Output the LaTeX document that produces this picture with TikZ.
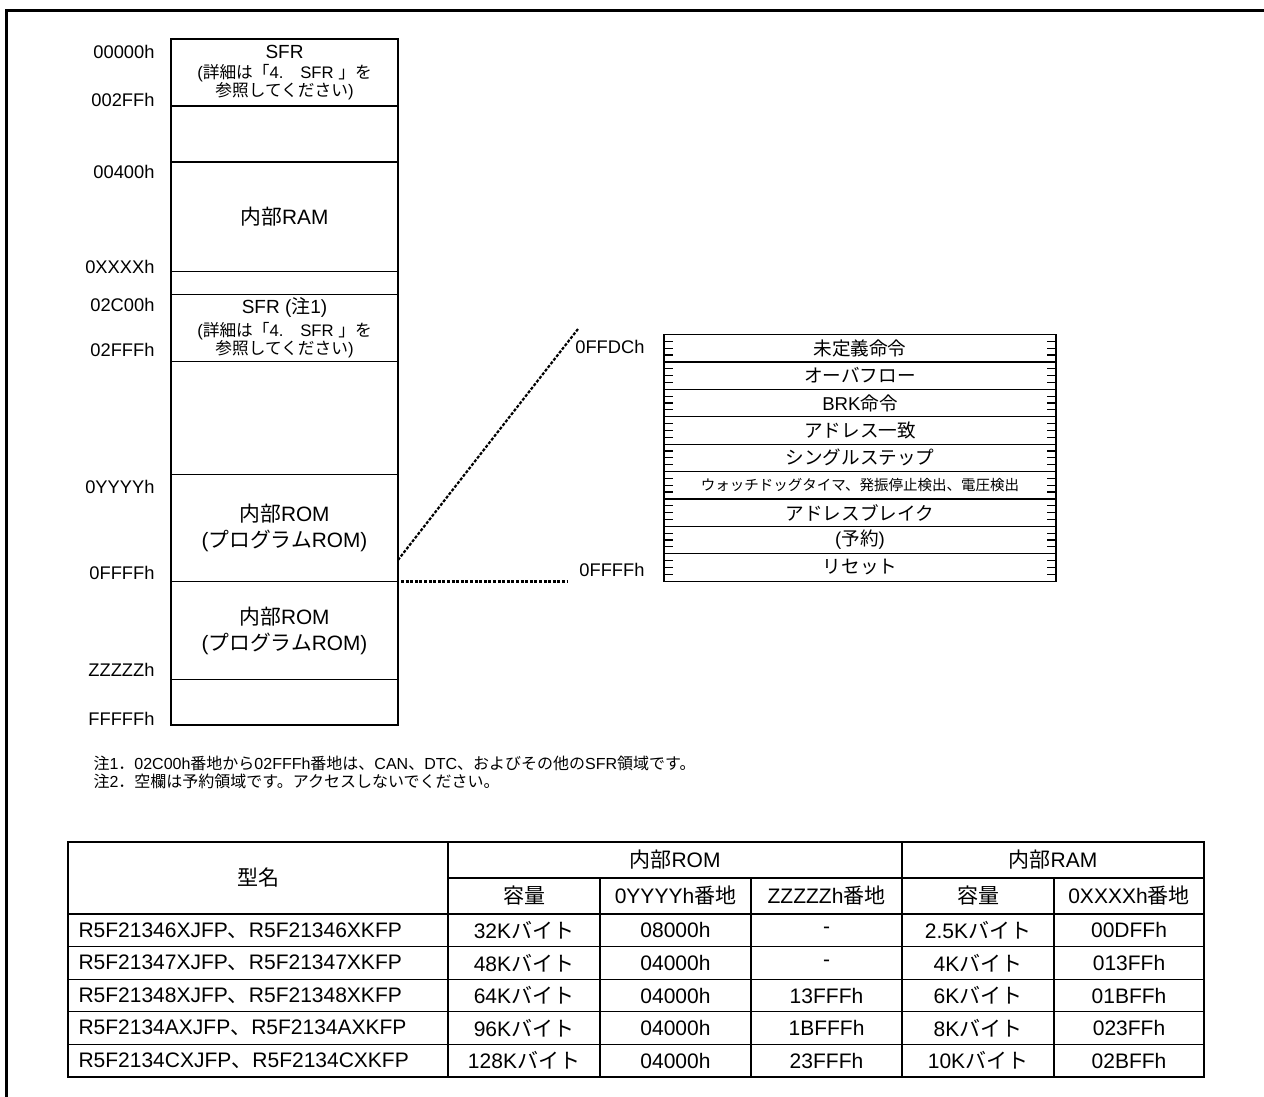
\documentclass[tikz,border=0pt]{standalone}
\usepackage{fontspec}
\setmainfont{Liberation Sans}
\newfontfamily\jpfont{Noto Sans CJK JP}
\usetikzlibrary{positioning}
% kana, kanji and full-width signs are set in the CJK family
\XeTeXinterchartokenstate=1
\newXeTeXintercharclass\jpclass
\newcount\jpcode
\jpcode="3000
\loop\XeTeXcharclass\jpcode=\jpclass\ifnum\jpcode<"9FFF\advance\jpcode by 1\repeat
\jpcode="FF00
\loop\XeTeXcharclass\jpcode=\jpclass\ifnum\jpcode<"FFEF\advance\jpcode by 1\repeat
\XeTeXinterchartoks 0 \jpclass={\jpfont}
\XeTeXinterchartoks 4095 \jpclass={\jpfont}
\XeTeXinterchartoks \jpclass 0={\rmfamily}
\XeTeXinterchartoks \jpclass 4095={\rmfamily}

\begin{document}
\begin{tikzpicture}[x=1pt,y=-1pt,
region/.style={draw,line width=1.4pt,minimum width=227pt,inner sep=0pt,outer sep=0pt,align=center,font=\fontsize{20.8}{26}\selectfont},
small/.style={font=\fontsize{16.7}{17}\selectfont},
addr/.style={anchor=east,font=\fontsize{18.3}{20}\selectfont},
vrow/.style={draw,line width=1.2pt,minimum width=392pt,minimum height=27.4pt,inner sep=0pt,outer sep=0pt,font=\fontsize{18.6}{20}\selectfont},
vtick/.style={line width=1.2pt},
zoomline/.style={line width=2.2pt,dash pattern=on 3pt off 1.6pt},
note/.style={anchor=west,font=\fontsize{16}{18}\selectfont},
cell/.style={font=\fontsize{21}{22}\selectfont},
tline/.style={line width=1.1pt},
thickrule/.style={line width=2.4pt}]
\useasboundingbox (0,0) rectangle (1264,1097);
\draw[line width=2.8pt] (1264,10.5) -- (6.5,10.5) -- (6.5,1097);

\node[region,minimum height=67pt,small] (sfrA) at (284.5,72.5) {{\fontsize{19}{19}\selectfont SFR}\\[3pt](詳細は「4.　SFR 」を\\参照してください)};
\node[region,minimum height=56pt,below=0pt of sfrA] (gapA) {};
\node[region,minimum height=109.5pt,below=0pt of gapA] (ram) {内部RAM};
\node[region,minimum height=23pt,below=0pt of ram] (gapB) {};
\node[region,minimum height=67pt,below=0pt of gapB,small] (sfrB) {{\fontsize{19}{19}\selectfont SFR (注1)}\\[3pt](詳細は「4.　SFR 」を\\参照してください)};
\node[region,minimum height=113pt,below=0pt of sfrB] (gapC) {};
\node[region,minimum height=107pt,below=0pt of gapC] (romA) {内部ROM\\(プログラムROM)};
\node[region,minimum height=98pt,below=0pt of romA] (romB) {内部ROM\\(プログラムROM)};
\node[region,minimum height=45.5pt,below=0pt of romB] (gapD) {};

\node[addr] (top) at (158,51.5) {00000h};
\node[addr] (sfrEnd) at (158,99.5) {002FFh};
\node[addr] (ramTop) at (158,171.5) {00400h};
\node[addr] (ramEnd) at (158,266.5) {0XXXXh};
\node[addr] (sfr2Top) at (158,305) {02C00h};
\node[addr] (sfr2End) at (158,350) {02FFFh};
\node[addr] (romTop) at (158,487) {0YYYYh};
\node[addr] (romEnd) at (158,572.5) {0FFFFh};
\node[addr] (zEnd) at (158,669.5) {ZZZZZh};
\node[addr] (memEnd) at (158,719) {FFFFFh};

\node[vrow] (v1) at (860,348.2) {未定義命令};
\node[vrow,below=0pt of v1] (v2) {オーバフロー};
\node[vrow,below=0pt of v2] (v3) {BRK命令};
\node[vrow,below=0pt of v3] (v4) {アドレス一致};
\node[vrow,below=0pt of v4] (v5) {シングルステップ};
\node[vrow,below=0pt of v5,font=\fontsize{14.5}{16}\selectfont] (v6) {ウォッチドッグタイマ、発振停止検出、電圧検出};
\node[vrow,below=0pt of v6] (v7) {アドレスブレイク};
\node[vrow,below=0pt of v7] (v8) {(予約)};
\node[vrow,below=0pt of v8] (v9) {リセット};
\foreach \r in {1,...,9}
  \foreach \q in {1,2,3} {
    \draw[vtick] ([yshift={-6.85pt*\q}]v\r.north west) -- ++(9,0);
    \draw[vtick] ([yshift={-6.85pt*\q}]v\r.north east) -- ++(-9,0);
  }
\node[addr] (vTop) at (648,347) {0FFDCh};
\node[addr] (vEnd) at (648,570) {0FFFFh};

\coordinate (zA) at ([yshift=21.5pt]romA.south east);
\coordinate (zB) at (578,329);
\coordinate (hA) at ([xshift=3pt]romA.south east);
\coordinate (hB) at (567,581.5);
\draw[zoomline] (zA) -- (zB);
\draw[zoomline] (hA) -- (hB);

\node[note] (note1) at (90,763) {注1．02C00h番地から02FFFh番地は、CAN、DTC、およびその他のSFR領域です。};
\node[note] (note2) at (90,781) {注2．空欄は予約領域です。アクセスしないでください。};

\draw[thickrule] (68,842) rectangle (1204,1077);
\draw[thickrule] (68,914) -- (1204,914);
\draw[tline] (448,878) -- (1204,878);
\foreach \yy in {946.6,979.2,1011.8,1044.4} \draw[tline] (68,\yy) -- (1204,\yy);
\foreach \xx in {448,902} \draw[tline] (\xx,842) -- (\xx,1077);
\foreach \xx in {600,751,1054} \draw[tline] (\xx,878) -- (\xx,1077);
\node[cell] (hName) at (258,878) {型名};
\node[cell] (hRom) at (675,860) {内部ROM};
\node[cell] (hRam) at (1053,860) {内部RAM};
\node[cell] (hRomSize) at (524,896) {容量};
\node[cell] (hRomY) at (675.5,896) {0YYYYh番地};
\node[cell] (hRomZ) at (826.5,896) {ZZZZZh番地};
\node[cell] (hRamSize) at (978,896) {容量};
\node[cell] (hRamX) at (1129,896) {0XXXXh番地};
\foreach \part/\rsz/\yad/\zad/\msz/\xad [count=\i] in {
  R5F21346XJFP、R5F21346XKFP/32Kバイト/08000h/-/2.5Kバイト/00DFFh,
  R5F21347XJFP、R5F21347XKFP/48Kバイト/04000h/-/4Kバイト/013FFh,
  R5F21348XJFP、R5F21348XKFP/64Kバイト/04000h/13FFFh/6Kバイト/01BFFh,
  R5F2134AXJFP、R5F2134AXKFP/96Kバイト/04000h/1BFFFh/8Kバイト/023FFh,
  R5F2134CXJFP、R5F2134CXKFP/128Kバイト/04000h/23FFFh/10Kバイト/02BFFh} {
  \node[cell,anchor=west] (part\i) at (75,{914+32.6*(\i-0.5)}) {\part};
  \node[cell] (romSize\i) at (524,{914+32.6*(\i-0.5)}) {\rsz};
  \node[cell] (romY\i) at (675.5,{914+32.6*(\i-0.5)}) {\yad};
  \node[cell] (romZ\i) at (826.5,{914+32.6*(\i-0.5)}) {\zad};
  \node[cell] (ramSize\i) at (978,{914+32.6*(\i-0.5)}) {\msz};
  \node[cell] (ramX\i) at (1129,{914+32.6*(\i-0.5)}) {\xad};
}
\end{tikzpicture}
\end{document}
